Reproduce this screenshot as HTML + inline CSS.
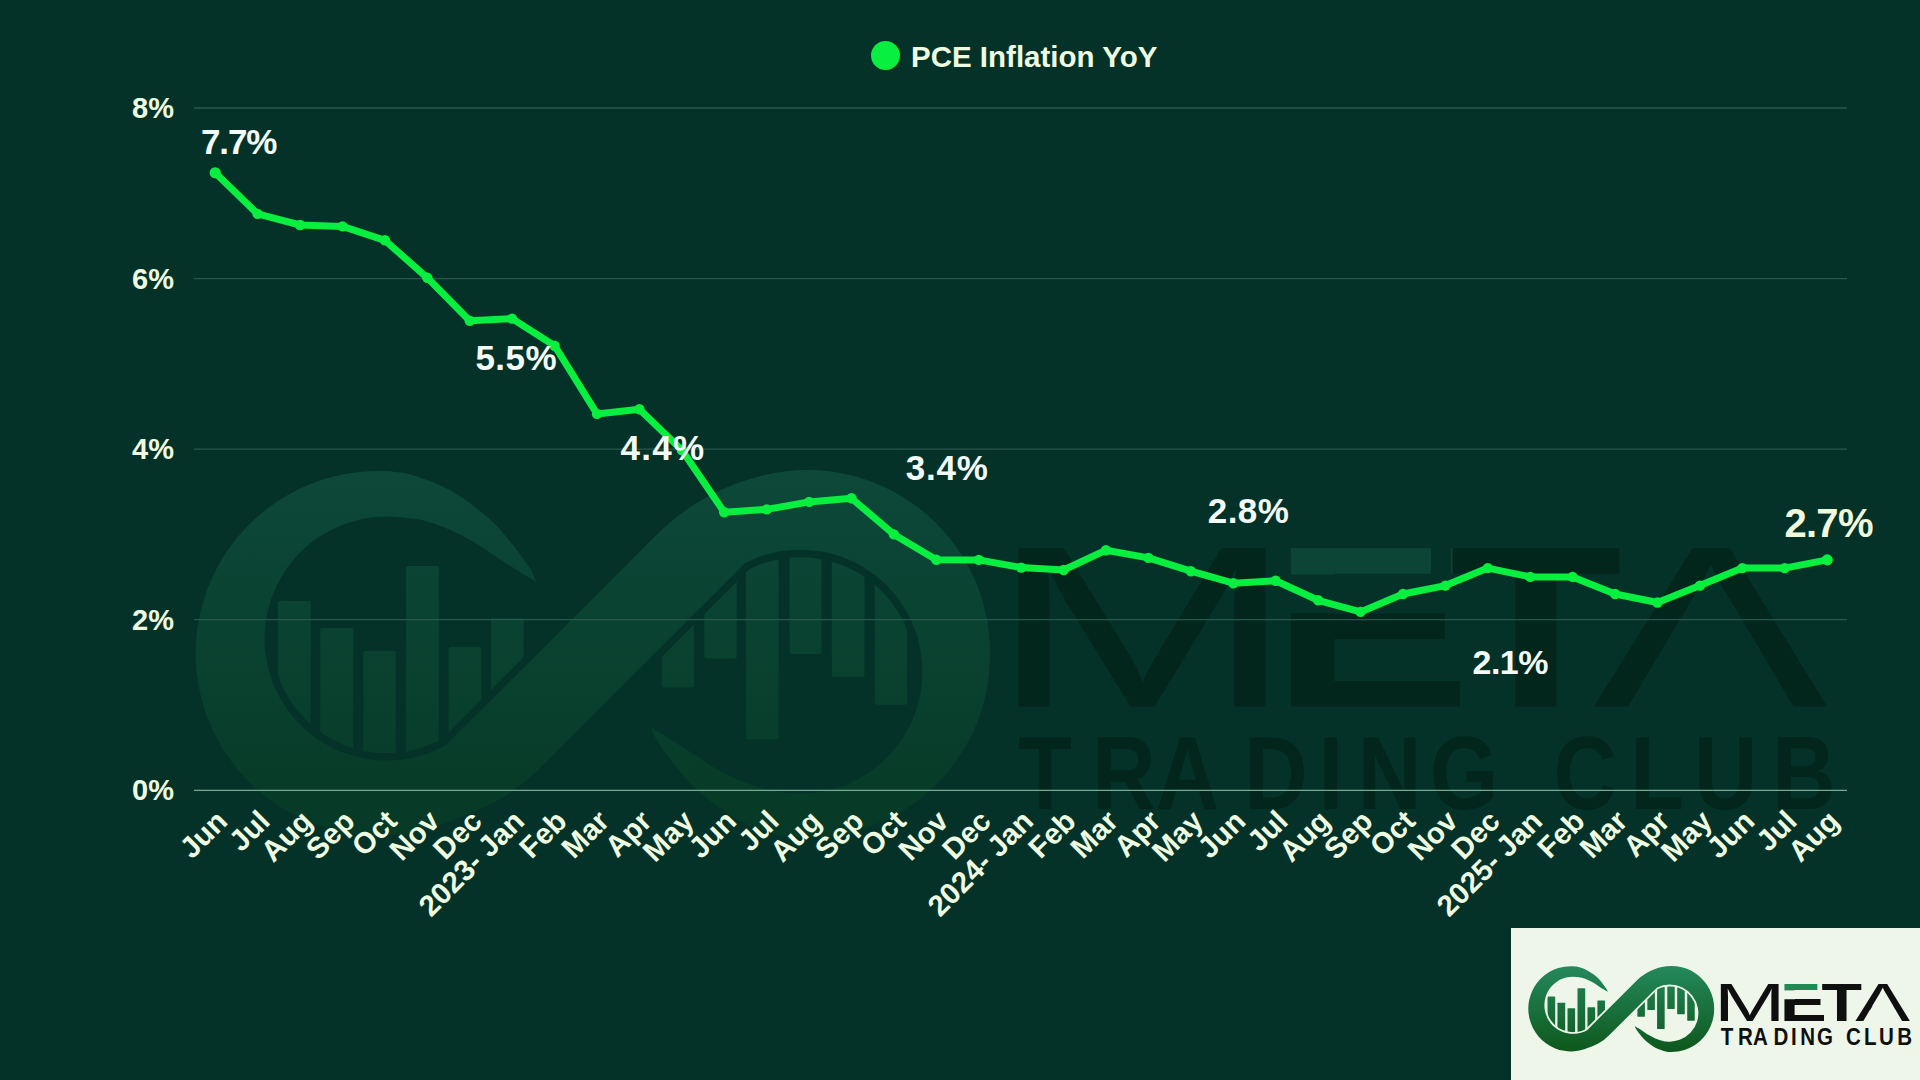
<!DOCTYPE html>
<html><head><meta charset="utf-8"><title>PCE Inflation YoY</title>
<style>
html,body{margin:0;padding:0;background:#043228;}
body{width:1920px;height:1080px;overflow:hidden;}
svg{display:block;}
text{font-family:"Liberation Sans",Arial,sans-serif;}
</style></head><body>
<svg width="1920" height="1080" viewBox="0 0 1920 1080">
<defs>
<linearGradient id="ringg" x1="0" y1="470" x2="0" y2="835" gradientUnits="userSpaceOnUse">
<stop offset="0" stop-color="#0d4839"/><stop offset="1" stop-color="#063a26"/></linearGradient>
<linearGradient id="sring" x1="0" y1="470" x2="0" y2="835" gradientUnits="userSpaceOnUse">
<stop offset="0" stop-color="#24895d"/><stop offset="1" stop-color="#0e581c"/></linearGradient>
<linearGradient id="weg" x1="0" y1="548" x2="0" y2="706" gradientUnits="userSpaceOnUse">
<stop offset="0" stop-color="#0c4535"/><stop offset="0.17" stop-color="#0c4535"/><stop offset="0.17" stop-color="#02251c"/><stop offset="1" stop-color="#02251c"/></linearGradient>
<linearGradient id="seg" x1="0" y1="548" x2="0" y2="706" gradientUnits="userSpaceOnUse">
<stop offset="0" stop-color="#1f8a52"/><stop offset="0.17" stop-color="#1f8a52"/><stop offset="0.17" stop-color="#0f0f0f"/><stop offset="1" stop-color="#0f0f0f"/></linearGradient>
</defs>
<rect width="1920" height="1080" fill="#043228"/>

<g id="wm">
<path d="M536.0,581.4 C535.0,579.3 533.6,574.4 530.0,568.7 C526.4,563.0 520.0,554.3 514.4,547.1 C508.8,539.9 503.3,532.4 496.3,525.4 C489.3,518.4 480.2,510.9 472.2,504.9 C464.2,498.9 456.2,493.6 448.2,489.3 C440.2,485.0 432.1,481.8 424.1,479.0 C416.1,476.2 410.3,473.8 400.0,472.4 A182.7,182.7 0 0 0 195.6,652.7 A182.7,182.7 0 0 0 434.8,826.5 C482.3,811.0 511.7,796.3 540.0,768.0 L745.0,563.0 A122.0,122.0 0 1 1 786.7,792.9 C779.9,792.1 770.7,790.6 762.7,788.4 C754.7,786.2 746.6,783.4 738.6,780.0 C730.6,776.6 722.6,772.6 714.6,768.0 C706.6,763.4 698.5,757.5 690.5,752.3 C682.5,747.1 673.0,740.8 666.4,736.7 C659.8,732.6 653.4,729.1 650.8,727.6 C651.8,729.7 653.2,734.6 656.8,740.3 C660.4,746.0 666.8,754.7 672.4,761.9 C678.0,769.1 683.5,776.6 690.5,783.6 C697.5,790.6 706.6,798.1 714.6,804.1 C722.6,810.1 730.6,815.4 738.6,819.7 C746.6,824.0 754.7,827.2 762.7,830.0 C770.7,832.8 776.7,835.8 786.8,836.6 A182.7,182.7 0 0 0 990.0,652.7 A182.7,182.7 0 0 0 766.2,474.7 C717.5,485.9 683.3,508.2 655.0,536.5 L446.9,744.6 A122.0,122.0 0 1 1 400.0,517.3 C406.8,518.0 416.1,518.7 424.1,520.6 C432.1,522.5 440.2,525.6 448.2,529.0 C456.2,532.4 464.2,536.4 472.2,541.0 C480.2,545.6 488.3,551.5 496.3,556.7 C504.3,561.9 513.8,568.2 520.4,572.3 C527.0,576.4 533.4,579.9 536.0,581.4 Z" fill="url(#ringg)"/>
<clipPath id="wcl1"><circle cx="386.5" cy="638.6" r="114.5"/><rect x="386.5" y="480" width="200" height="220"/></clipPath>
<clipPath id="wcl2"><path d="M0,0 L1180.9,0 L0,1180.9 Z"/></clipPath>
<clipPath id="wcr1"><circle cx="800.4" cy="671.7" r="114.5"/><rect x="600.4" y="600" width="200" height="220"/></clipPath>
<clipPath id="wcr2"><path d="M2000,2000 L-681.4,2000 L2000,-681.4 Z"/></clipPath>
<g clip-path="url(#wcl2)"><g clip-path="url(#wcl1)" fill="url(#ringg)">
<rect x="277.8" y="601" width="32.8" height="199.0" rx="2"/>
<rect x="320.3" y="628" width="33.0" height="172.0" rx="2"/>
<rect x="363.3" y="651" width="32.5" height="149.0" rx="2"/>
<rect x="406" y="566" width="32.9" height="234.0" rx="2"/>
<rect x="448.6" y="647" width="32.8" height="153.0" rx="2"/>
<rect x="491" y="618.3" width="32.6" height="181.7" rx="2"/>
</g></g>
<g clip-path="url(#wcr2)"><g clip-path="url(#wcr1)" fill="url(#ringg)">
<rect x="661.9" y="480" width="32.1" height="207.4" rx="2"/>
<rect x="704.4" y="480" width="32.3" height="178.5" rx="2"/>
<rect x="746" y="480" width="32.5" height="259.3" rx="2"/>
<rect x="789.6" y="480" width="31.9" height="174.0" rx="2"/>
<rect x="831.9" y="480" width="32.5" height="197.0" rx="2"/>
<rect x="874.8" y="480" width="32.2" height="224.8" rx="2"/>
</g></g>
<clipPath id="wmclip"><path clip-rule="evenodd" d="M900,400 H2000 V900 H900 Z M1654.2,662.4 L1767.6,662.4 L1755.3,641.4 L1666.6,641.4 Z M1284.0,574.5 L1335.4,574.5 L1335.4,613.0 L1284.0,613.0 Z M1431.0,544.0 L1451.0,544.0 L1451.0,574.5 L1431.0,574.5 Z"/></clipPath>
<text y="706.5" font-size="230" font-weight="400" fill="#02251c" clip-path="url(#wmclip)"><tspan x="988.4" textLength="307.3" lengthAdjust="spacingAndGlyphs">M</tspan><tspan x="1270.8" textLength="200.9" lengthAdjust="spacingAndGlyphs" font-weight="700" fill="url(#weg)">E</tspan><tspan x="1449.3" textLength="173.1" lengthAdjust="spacingAndGlyphs" font-weight="700">T</tspan><tspan x="1593.3" textLength="234.4" lengthAdjust="spacingAndGlyphs">A</tspan></text>
<text transform="scale(0.85,1)" x="1197.9 1284.9 1359.8 1463.7 1551.2 1597.6 1682.4 1695.2 1827.8 1917.8 1993.1 2085.1" y="809.2" font-size="103.2" font-weight="700" fill="#02251c" xml:space="preserve">TRADING CLUB</text>
</g>
<line x1="194" x2="1847" y1="619.7" y2="619.7" stroke="#28574b" stroke-width="1.3"/>
<line x1="194" x2="1847" y1="449.1" y2="449.1" stroke="#28574b" stroke-width="1.3"/>
<line x1="194" x2="1847" y1="278.6" y2="278.6" stroke="#28574b" stroke-width="1.3"/>
<line x1="194" x2="1847" y1="108.0" y2="108.0" stroke="#28574b" stroke-width="1.3"/>
<line x1="194" x2="1847" y1="790.4" y2="790.4" stroke="#76a894" stroke-width="1.3"/>
<text x="174" y="800.2" font-size="29" font-weight="700" fill="#eefbe0" text-anchor="end">0%</text>
<text x="174" y="629.7" font-size="29" font-weight="700" fill="#eefbe0" text-anchor="end">2%</text>
<text x="174" y="459.1" font-size="29" font-weight="700" fill="#eefbe0" text-anchor="end">4%</text>
<text x="174" y="288.6" font-size="29" font-weight="700" fill="#eefbe0" text-anchor="end">6%</text>
<text x="174" y="118.0" font-size="29" font-weight="700" fill="#eefbe0" text-anchor="end">8%</text>
<circle cx="885.5" cy="55.5" r="14.5" fill="#08ef40"/>
<text x="911" y="67" font-size="29.5" font-weight="700" fill="#eefbe0">PCE Inflation YoY</text>
<polyline points="215.2,172.8 257.6,213.9 300.0,225.0 342.5,226.4 384.9,240.3 427.3,277.8 469.7,320.8 512.1,318.6 554.6,345.7 597.0,413.9 639.4,409.3 681.8,450.0 724.2,512.2 766.7,509.4 809.1,501.9 851.5,498.3 893.9,534.4 936.3,559.8 978.8,559.9 1021.2,567.6 1063.6,570.0 1106.0,550.2 1148.4,557.9 1190.9,571.2 1233.3,583.2 1275.7,580.7 1318.1,600.3 1360.5,611.9 1403.0,594.0 1445.4,585.6 1487.8,568.1 1530.2,576.9 1572.6,576.9 1615.1,594.0 1657.5,602.5 1699.9,585.6 1742.3,568.1 1784.7,568.1 1827.2,559.9" fill="none" stroke="#08ef40" stroke-width="7" stroke-linejoin="round" stroke-linecap="round"/>
<circle cx="215.2" cy="172.8" r="5.6" fill="#08ef40"/>
<circle cx="257.6" cy="213.9" r="5.2" fill="#08ef40"/>
<circle cx="300.0" cy="225.0" r="5.2" fill="#08ef40"/>
<circle cx="342.5" cy="226.4" r="5.2" fill="#08ef40"/>
<circle cx="384.9" cy="240.3" r="5.2" fill="#08ef40"/>
<circle cx="427.3" cy="277.8" r="5.2" fill="#08ef40"/>
<circle cx="469.7" cy="320.8" r="5.2" fill="#08ef40"/>
<circle cx="512.1" cy="318.6" r="5.2" fill="#08ef40"/>
<circle cx="554.6" cy="345.7" r="5.2" fill="#08ef40"/>
<circle cx="597.0" cy="413.9" r="5.2" fill="#08ef40"/>
<circle cx="639.4" cy="409.3" r="5.2" fill="#08ef40"/>
<circle cx="681.8" cy="450.0" r="5.2" fill="#08ef40"/>
<circle cx="724.2" cy="512.2" r="5.2" fill="#08ef40"/>
<circle cx="766.7" cy="509.4" r="5.2" fill="#08ef40"/>
<circle cx="809.1" cy="501.9" r="5.2" fill="#08ef40"/>
<circle cx="851.5" cy="498.3" r="5.2" fill="#08ef40"/>
<circle cx="893.9" cy="534.4" r="5.2" fill="#08ef40"/>
<circle cx="936.3" cy="559.8" r="5.2" fill="#08ef40"/>
<circle cx="978.8" cy="559.9" r="5.2" fill="#08ef40"/>
<circle cx="1021.2" cy="567.6" r="5.2" fill="#08ef40"/>
<circle cx="1063.6" cy="570.0" r="5.2" fill="#08ef40"/>
<circle cx="1106.0" cy="550.2" r="5.2" fill="#08ef40"/>
<circle cx="1148.4" cy="557.9" r="5.2" fill="#08ef40"/>
<circle cx="1190.9" cy="571.2" r="5.2" fill="#08ef40"/>
<circle cx="1233.3" cy="583.2" r="5.2" fill="#08ef40"/>
<circle cx="1275.7" cy="580.7" r="5.2" fill="#08ef40"/>
<circle cx="1318.1" cy="600.3" r="5.2" fill="#08ef40"/>
<circle cx="1360.5" cy="611.9" r="5.2" fill="#08ef40"/>
<circle cx="1403.0" cy="594.0" r="5.2" fill="#08ef40"/>
<circle cx="1445.4" cy="585.6" r="5.2" fill="#08ef40"/>
<circle cx="1487.8" cy="568.1" r="5.2" fill="#08ef40"/>
<circle cx="1530.2" cy="576.9" r="5.2" fill="#08ef40"/>
<circle cx="1572.6" cy="576.9" r="5.2" fill="#08ef40"/>
<circle cx="1615.1" cy="594.0" r="5.2" fill="#08ef40"/>
<circle cx="1657.5" cy="602.5" r="5.2" fill="#08ef40"/>
<circle cx="1699.9" cy="585.6" r="5.2" fill="#08ef40"/>
<circle cx="1742.3" cy="568.1" r="5.2" fill="#08ef40"/>
<circle cx="1784.7" cy="568.1" r="5.2" fill="#08ef40"/>
<circle cx="1827.2" cy="559.9" r="5.6" fill="#08ef40"/>
<text transform="translate(229.1,822.9) rotate(-45)" font-size="29.5" font-weight="700" fill="#eefbe0" text-anchor="end">Jun</text>
<text transform="translate(271.5,822.9) rotate(-45)" font-size="29.5" font-weight="700" fill="#eefbe0" text-anchor="end">Jul</text>
<text transform="translate(313.9,822.9) rotate(-45)" font-size="29.5" font-weight="700" fill="#eefbe0" text-anchor="end">Aug</text>
<text transform="translate(356.4,822.9) rotate(-45)" font-size="29.5" font-weight="700" fill="#eefbe0" text-anchor="end">Sep</text>
<text transform="translate(398.8,822.9) rotate(-45)" font-size="29.5" font-weight="700" fill="#eefbe0" text-anchor="end">Oct</text>
<text transform="translate(441.2,822.9) rotate(-45)" font-size="29.5" font-weight="700" fill="#eefbe0" text-anchor="end">Nov</text>
<text transform="translate(483.6,822.9) rotate(-45)" font-size="29.5" font-weight="700" fill="#eefbe0" text-anchor="end">Dec</text>
<text transform="translate(526.0,822.9) rotate(-45)" font-size="29.5" font-weight="700" fill="#eefbe0" text-anchor="end">2023- Jan</text>
<text transform="translate(568.5,822.9) rotate(-45)" font-size="29.5" font-weight="700" fill="#eefbe0" text-anchor="end">Feb</text>
<text transform="translate(610.9,822.9) rotate(-45)" font-size="29.5" font-weight="700" fill="#eefbe0" text-anchor="end">Mar</text>
<text transform="translate(653.3,822.9) rotate(-45)" font-size="29.5" font-weight="700" fill="#eefbe0" text-anchor="end">Apr</text>
<text transform="translate(695.7,822.9) rotate(-45)" font-size="29.5" font-weight="700" fill="#eefbe0" text-anchor="end">May</text>
<text transform="translate(738.1,822.9) rotate(-45)" font-size="29.5" font-weight="700" fill="#eefbe0" text-anchor="end">Jun</text>
<text transform="translate(780.6,822.9) rotate(-45)" font-size="29.5" font-weight="700" fill="#eefbe0" text-anchor="end">Jul</text>
<text transform="translate(823.0,822.9) rotate(-45)" font-size="29.5" font-weight="700" fill="#eefbe0" text-anchor="end">Aug</text>
<text transform="translate(865.4,822.9) rotate(-45)" font-size="29.5" font-weight="700" fill="#eefbe0" text-anchor="end">Sep</text>
<text transform="translate(907.8,822.9) rotate(-45)" font-size="29.5" font-weight="700" fill="#eefbe0" text-anchor="end">Oct</text>
<text transform="translate(950.2,822.9) rotate(-45)" font-size="29.5" font-weight="700" fill="#eefbe0" text-anchor="end">Nov</text>
<text transform="translate(992.7,822.9) rotate(-45)" font-size="29.5" font-weight="700" fill="#eefbe0" text-anchor="end">Dec</text>
<text transform="translate(1035.1,822.9) rotate(-45)" font-size="29.5" font-weight="700" fill="#eefbe0" text-anchor="end">2024- Jan</text>
<text transform="translate(1077.5,822.9) rotate(-45)" font-size="29.5" font-weight="700" fill="#eefbe0" text-anchor="end">Feb</text>
<text transform="translate(1119.9,822.9) rotate(-45)" font-size="29.5" font-weight="700" fill="#eefbe0" text-anchor="end">Mar</text>
<text transform="translate(1162.3,822.9) rotate(-45)" font-size="29.5" font-weight="700" fill="#eefbe0" text-anchor="end">Apr</text>
<text transform="translate(1204.8,822.9) rotate(-45)" font-size="29.5" font-weight="700" fill="#eefbe0" text-anchor="end">May</text>
<text transform="translate(1247.2,822.9) rotate(-45)" font-size="29.5" font-weight="700" fill="#eefbe0" text-anchor="end">Jun</text>
<text transform="translate(1289.6,822.9) rotate(-45)" font-size="29.5" font-weight="700" fill="#eefbe0" text-anchor="end">Jul</text>
<text transform="translate(1332.0,822.9) rotate(-45)" font-size="29.5" font-weight="700" fill="#eefbe0" text-anchor="end">Aug</text>
<text transform="translate(1374.4,822.9) rotate(-45)" font-size="29.5" font-weight="700" fill="#eefbe0" text-anchor="end">Sep</text>
<text transform="translate(1416.9,822.9) rotate(-45)" font-size="29.5" font-weight="700" fill="#eefbe0" text-anchor="end">Oct</text>
<text transform="translate(1459.3,822.9) rotate(-45)" font-size="29.5" font-weight="700" fill="#eefbe0" text-anchor="end">Nov</text>
<text transform="translate(1501.7,822.9) rotate(-45)" font-size="29.5" font-weight="700" fill="#eefbe0" text-anchor="end">Dec</text>
<text transform="translate(1544.1,822.9) rotate(-45)" font-size="29.5" font-weight="700" fill="#eefbe0" text-anchor="end">2025- Jan</text>
<text transform="translate(1586.5,822.9) rotate(-45)" font-size="29.5" font-weight="700" fill="#eefbe0" text-anchor="end">Feb</text>
<text transform="translate(1629.0,822.9) rotate(-45)" font-size="29.5" font-weight="700" fill="#eefbe0" text-anchor="end">Mar</text>
<text transform="translate(1671.4,822.9) rotate(-45)" font-size="29.5" font-weight="700" fill="#eefbe0" text-anchor="end">Apr</text>
<text transform="translate(1713.8,822.9) rotate(-45)" font-size="29.5" font-weight="700" fill="#eefbe0" text-anchor="end">May</text>
<text transform="translate(1756.2,822.9) rotate(-45)" font-size="29.5" font-weight="700" fill="#eefbe0" text-anchor="end">Jun</text>
<text transform="translate(1798.6,822.9) rotate(-45)" font-size="29.5" font-weight="700" fill="#eefbe0" text-anchor="end">Jul</text>
<text transform="translate(1841.1,822.9) rotate(-45)" font-size="29.5" font-weight="700" fill="#eefbe0" text-anchor="end">Aug</text>
<text x="201.1" y="154.0" font-size="35" font-weight="700" fill="#f3fbf8" letter-spacing="-1.2">7.7%</text>
<text x="475.4" y="370.0" font-size="35" font-weight="700" fill="#f3fbf8" letter-spacing="0.47">5.5%</text>
<text x="620.5" y="459.8" font-size="35" font-weight="700" fill="#f3fbf8" letter-spacing="1.27">4.4%</text>
<text x="905.7" y="479.7" font-size="35" font-weight="700" fill="#f3fbf8" letter-spacing="0.8">3.4%</text>
<text x="1207.8" y="523.0" font-size="35" font-weight="700" fill="#f3fbf8" letter-spacing="0.4">2.8%</text>
<text x="1472.5" y="673.7" font-size="34" font-weight="700" fill="#f3fbf8" letter-spacing="-0.5">2.1%</text>
<text x="1784.4" y="537.4" font-size="40" font-weight="700" fill="#f1f9dc" letter-spacing="-0.7">2.7%</text>
<rect x="1511" y="928" width="409" height="152" fill="#eef6ea"/>
<g transform="translate(1482.5,855.9) scale(0.234)">
<path d="M536.0,581.4 C535.0,579.3 533.6,574.4 530.0,568.7 C526.4,563.0 520.0,554.3 514.4,547.1 C508.8,539.9 503.3,532.4 496.3,525.4 C489.3,518.4 480.2,510.9 472.2,504.9 C464.2,498.9 456.2,493.6 448.2,489.3 C440.2,485.0 432.1,481.8 424.1,479.0 C416.1,476.2 410.3,473.8 400.0,472.4 A182.7,182.7 0 0 0 195.6,652.7 A182.7,182.7 0 0 0 434.8,826.5 C482.3,811.0 511.7,796.3 540.0,768.0 L745.0,563.0 A122.0,122.0 0 1 1 786.7,792.9 C779.9,792.1 770.7,790.6 762.7,788.4 C754.7,786.2 746.6,783.4 738.6,780.0 C730.6,776.6 722.6,772.6 714.6,768.0 C706.6,763.4 698.5,757.5 690.5,752.3 C682.5,747.1 673.0,740.8 666.4,736.7 C659.8,732.6 653.4,729.1 650.8,727.6 C651.8,729.7 653.2,734.6 656.8,740.3 C660.4,746.0 666.8,754.7 672.4,761.9 C678.0,769.1 683.5,776.6 690.5,783.6 C697.5,790.6 706.6,798.1 714.6,804.1 C722.6,810.1 730.6,815.4 738.6,819.7 C746.6,824.0 754.7,827.2 762.7,830.0 C770.7,832.8 776.7,835.8 786.8,836.6 A182.7,182.7 0 0 0 990.0,652.7 A182.7,182.7 0 0 0 766.2,474.7 C717.5,485.9 683.3,508.2 655.0,536.5 L446.9,744.6 A122.0,122.0 0 1 1 400.0,517.3 C406.8,518.0 416.1,518.7 424.1,520.6 C432.1,522.5 440.2,525.6 448.2,529.0 C456.2,532.4 464.2,536.4 472.2,541.0 C480.2,545.6 488.3,551.5 496.3,556.7 C504.3,561.9 513.8,568.2 520.4,572.3 C527.0,576.4 533.4,579.9 536.0,581.4 Z" fill="url(#sring)"/>
<clipPath id="scl1"><circle cx="386.5" cy="638.6" r="114.5"/><rect x="386.5" y="480" width="200" height="220"/></clipPath>
<clipPath id="scl2"><path d="M0,0 L1180.9,0 L0,1180.9 Z"/></clipPath>
<clipPath id="scr1"><circle cx="800.4" cy="671.7" r="114.5"/><rect x="600.4" y="600" width="200" height="220"/></clipPath>
<clipPath id="scr2"><path d="M2000,2000 L-681.4,2000 L2000,-681.4 Z"/></clipPath>
<g clip-path="url(#scl2)"><g clip-path="url(#scl1)" fill="url(#sring)">
<rect x="277.8" y="601" width="32.8" height="199.0" rx="2"/>
<rect x="320.3" y="628" width="33.0" height="172.0" rx="2"/>
<rect x="363.3" y="651" width="32.5" height="149.0" rx="2"/>
<rect x="406" y="566" width="32.9" height="234.0" rx="2"/>
<rect x="448.6" y="647" width="32.8" height="153.0" rx="2"/>
<rect x="491" y="618.3" width="32.6" height="181.7" rx="2"/>
</g></g>
<g clip-path="url(#scr2)"><g clip-path="url(#scr1)" fill="url(#sring)">
<rect x="661.9" y="480" width="32.1" height="207.4" rx="2"/>
<rect x="704.4" y="480" width="32.3" height="178.5" rx="2"/>
<rect x="746" y="480" width="32.5" height="259.3" rx="2"/>
<rect x="789.6" y="480" width="31.9" height="174.0" rx="2"/>
<rect x="831.9" y="480" width="32.5" height="197.0" rx="2"/>
<rect x="874.8" y="480" width="32.2" height="224.8" rx="2"/>
</g></g>
<clipPath id="smclip"><path clip-rule="evenodd" d="M900,400 H2000 V900 H900 Z M1654.2,662.4 L1767.6,662.4 L1755.3,641.4 L1666.6,641.4 Z M1284.0,574.5 L1335.4,574.5 L1335.4,613.0 L1284.0,613.0 Z M1431.0,544.0 L1451.0,544.0 L1451.0,574.5 L1431.0,574.5 Z"/></clipPath>
<text y="706.5" font-size="230" font-weight="400" fill="#0f0f0f" clip-path="url(#smclip)"><tspan x="988.4" textLength="307.3" lengthAdjust="spacingAndGlyphs">M</tspan><tspan x="1270.8" textLength="200.9" lengthAdjust="spacingAndGlyphs" font-weight="700" fill="url(#seg)">E</tspan><tspan x="1449.3" textLength="173.1" lengthAdjust="spacingAndGlyphs" font-weight="700">T</tspan><tspan x="1593.3" textLength="234.4" lengthAdjust="spacingAndGlyphs">A</tspan></text>
<text transform="scale(0.85,1)" x="1197.9 1284.9 1359.8 1463.7 1551.2 1597.6 1682.4 1695.2 1827.8 1917.8 1993.1 2085.1" y="809.2" font-size="103.2" font-weight="700" fill="#0f0f0f" xml:space="preserve">TRADING CLUB</text>
</g>
</svg></body></html>
